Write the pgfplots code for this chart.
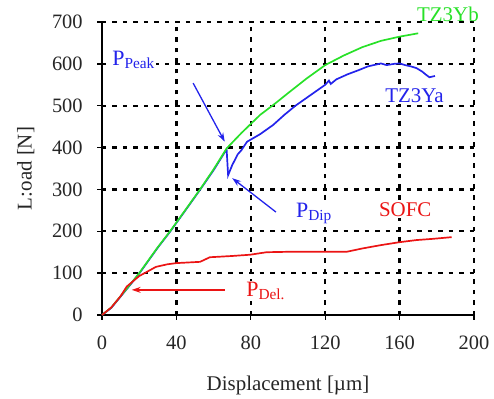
\documentclass[border=0pt]{standalone}
\usepackage{fontspec}
\setmainfont{Liberation Serif}
\usepackage{pgfplots}
\pgfplotsset{compat=1.18}
\usetikzlibrary{arrows.meta}
\definecolor{cgreen}{RGB}{40,225,40}
\definecolor{cblue}{RGB}{35,35,235}
\definecolor{cred}{RGB}{235,20,20}
\begin{document}
\fontsize{20}{24}\selectfont
\begin{tikzpicture}
\begin{axis}[
  scale only axis, width=372bp, height=293bp,
  xmin=0, xmax=200, ymin=0, ymax=700,
  xtick={0,40,...,200}, ytick={0,100,...,700},
  axis x line=bottom, axis y line=left,
  axis line style={-, line width=1.4pt, black},
  tick style={line width=1.4pt, black},
  major tick length=9bp, tick align=center,
  grid=major,
  major grid style={black, line width=2.3bp, dash pattern=on 4.5bp off 6bp},
  /pgf/number format/assume math mode=true,
  tick label style={font=\fontsize{20.5}{24}\selectfont, text=black!85},
  xticklabel style={yshift=-10bp},
  yticklabel style={xshift=-8bp},
  label style={font=\fontsize{21}{24}\selectfont, text=black!85},
  xlabel={Displacement [µm]}, ylabel={L:oad [N]},
  xlabel style={yshift=-12bp},
  ylabel style={yshift=4bp},
  clip=false,
]
\addplot[cblue, line width=1.7pt] coordinates {
(0,0)(5,17)(10,44)(15,71)(20,99)(30,161)(36.6,199)(45,251)(52.7,299)(60,346)(67,396)(67.8,334)(70,358)(73,384)(75,394)(78,414)(85,432)(92,454)(98,478)(104,500)(112,525)(120,550)(122,560)(123,552)(126,563)(132,575)(138,585)(143,594)(147,598)(150,601)(153,597)(157,600)(160,601)(163,597)(166,594)(169,590)(172,582)(174.5,573)(176,568)(179,571)};
\addplot[cgreen, line width=1.7pt] coordinates {
(0,0)(5,18)(10,45)(15,72)(20,100)(30,162)(36.6,200)(45,252)(52.7,300)(60,348)(67,398)(75,435)(85,478)(93,505)(100,530)(110,565)(120,597)(130,620)(140,640)(150,655)(160,665)(170,673)};
\addplot[cred, line width=1.7pt] coordinates {
(0,0)(5,18)(10,45)(13.3,68)(20,93)(29,115)(35,121)(40,124)(52.7,127)(58,138)(70,141)(79.6,144)(88.5,150)(100,151)(131.5,151)(140,159)(150,167)(160,174)(169,179)(178,182)(188,186)};
\node[text=cgreen, font=\fontsize{21}{24}\selectfont] at (axis cs:186,719) {TZ3Yb};
\node[text=cblue, fill=white, inner sep=1pt, font=\fontsize{21}{24}\selectfont] at (axis cs:168,523) {TZ3Ya};
\node[text=cred, fill=white, inner sep=1pt, font=\fontsize{21}{24}\selectfont] at (axis cs:163,251) {SOFC};
\node[text=cblue, fill=white, inner sep=1pt, font=\fontsize{22}{24}\selectfont] at (axis cs:17,609) {P\textsubscript{Peak}};
\node[text=cblue, fill=white, inner sep=1pt, font=\fontsize{22}{24}\selectfont] at (axis cs:114,242) {P\textsubscript{Dip}};
\node[text=cred, fill=white, inner sep=1pt, font=\fontsize{22}{24}\selectfont] at (axis cs:88,57) {P\textsubscript{Del.}};
\draw[cblue, line width=1.3pt, -{Stealth[length=9bp,width=6bp]}] (axis cs:49,554) -- (axis cs:66,414);
\draw[cblue, line width=1.3pt, -{Stealth[length=9bp,width=6bp]}] (axis cs:93.5,246) -- (axis cs:70,327);
\draw[cred, line width=1.3pt, -{Stealth[length=9bp,width=6bp]}] (axis cs:66,60) -- (axis cs:16,60);
\coordinate (O) at (axis cs:0,0);
\end{axis}
\pgfresetboundingbox
\path ([shift={(-102bp,-84bp)}]O) rectangle ([shift={(392bp,315bp)}]O);
\end{tikzpicture}
\end{document}
